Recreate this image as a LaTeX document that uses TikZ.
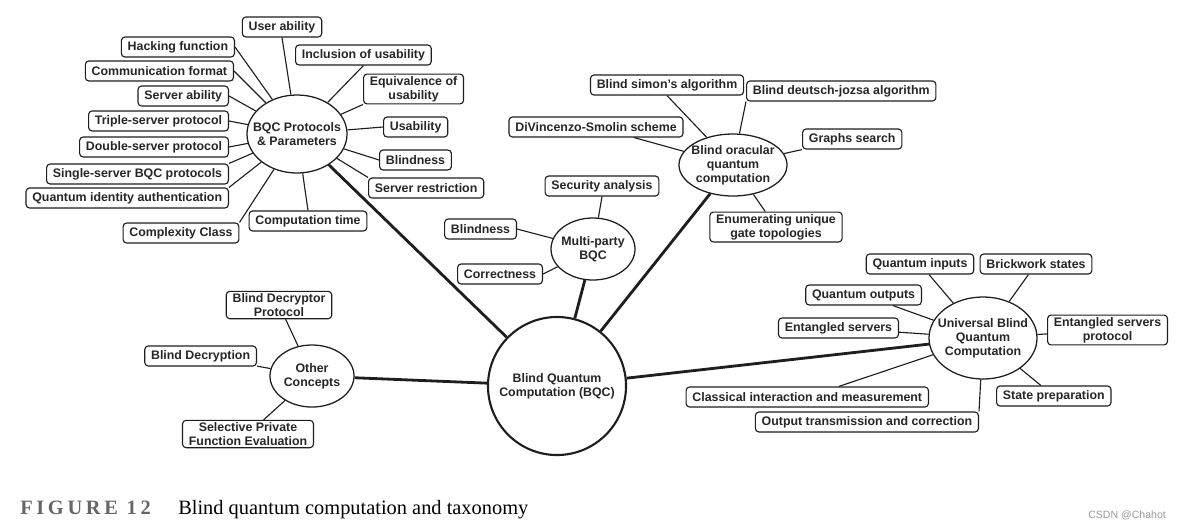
\documentclass[tikz,border=0pt]{standalone}
\usepackage{fontspec}
\setmainfont{Liberation Serif}
\setsansfont{Liberation Sans}
\newfontfamily\figlabfont[LetterSpace=18]{Liberation Serif}
\usetikzlibrary{shapes.geometric}
\definecolor{inkTxt}{HTML}{262626}
\definecolor{inkLine}{HTML}{1E1E1E}
\definecolor{figGry}{HTML}{66666A}
\definecolor{markGry}{HTML}{9A9A9A}

\begin{document}
\begin{tikzpicture}[
  x=0.025cm, y=-0.025cm,
  font=\sffamily\bfseries\fontsize{8.8}{10}\selectfont,
  leaf/.style={rectangle, rounded corners=2.5pt, draw=inkLine, line width=0.8pt, fill=white,
               text=inkTxt, align=center, inner xsep=4.5pt, inner ysep=1.5pt, minimum height=5mm},
  hub/.style={ellipse, draw=inkLine, line width=0.9pt, fill=white, inner sep=0pt},
  hubtxt/.style={text=inkTxt, align=center},
  root/.style={circle, draw=inkLine, line width=1.5pt, fill=white, minimum size=3.45cm,
               text=inkTxt, align=center},
  twig/.style={draw=inkLine, line width=0.8pt},
  limb/.style={draw=inkLine, line width=2pt},
]
\useasboundingbox (0,0) rectangle (1182,528);

% ---- Root ----
\node[root] (root) at (557,386) {Blind Quantum\\Computation (BQC)};

% ---- BQC protocols & parameters ----
\node[hub, minimum width=2.5cm, minimum height=1.95cm,
      label={[hubtxt]center:BQC Protocols\\\& Parameters}] (bqcp) at (297,134) {};
\node[leaf] (user) at (282,27) {User ability};
\node[leaf, anchor=east] (hack) at (235,47) {Hacking function};
\node[leaf, anchor=east] (comm) at (234,71) {Communication format};
\node[leaf, anchor=east] (srvab) at (229,96) {Server ability};
\node[leaf, anchor=east] (triple) at (229,121) {Triple-server protocol};
\node[leaf, anchor=east] (double) at (229,147) {Double-server protocol};
\node[leaf, anchor=east] (single) at (229,174) {Single-server BQC protocols};
\node[leaf, anchor=east] (qia) at (229,198) {Quantum identity authentication};
\node[leaf] (cplx) at (181,233) {Complexity Class};
\node[leaf] (ctime) at (308,221) {Computation time};
\node[leaf, anchor=west] (incl) at (295,55) {Inclusion of usability};
\node[leaf, anchor=west] (equiv) at (363,89) {Equivalence of\\usability};
\node[leaf, anchor=west] (usab) at (383,127) {Usability};
\node[leaf, anchor=west] (pblind) at (379,160) {Blindness};
\node[leaf, anchor=west] (srvres) at (368,188) {Server restriction};

\foreach \a in {user.south, hack.east, comm.east, srvab.east, triple.east, double.east,
                single.north east, qia.north east, cplx.north east, ctime.north,
                incl.south, equiv.south west, usab.west, pblind.west, srvres.north west}
  \draw[twig] (\a) -- (bqcp);

% ---- Multi-party BQC ----
\node[hub, minimum width=2.1cm, minimum height=1.55cm,
      label={[hubtxt]center:Multi-party\\BQC}] (mpbqc) at (593,249) {};
\node[leaf] (sec) at (602,186) {Security analysis};
\node[leaf, anchor=east] (mblind) at (517,229) {Blindness};
\node[leaf, anchor=east] (corr) at (543,274) {Correctness};

\foreach \a in {sec.south, mblind.east, corr.east}
  \draw[twig] (\a) -- (mpbqc);

% ---- Blind oracular quantum computation ----
\node[hub, minimum width=2.7cm, minimum height=1.55cm,
      label={[hubtxt]center:Blind oracular\\quantum\\computation}] (bloq) at (733,165) {};
\node[leaf] (simon) at (667,85) {Blind simon’s algorithm};
\node[leaf, anchor=west] (dj) at (746,91) {Blind deutsch-jozsa algorithm};
\node[leaf] (dv) at (596,127) {DiVincenzo-Smolin scheme};
\node[leaf, anchor=west] (graphs) at (802,139) {Graphs search};
\node[leaf] (enum) at (776,227) {Enumerating unique\\gate topologies};

\foreach \a in {simon.south, dj.south west, dv, graphs.south west, enum}
  \draw[twig] (\a) -- (bloq);

% ---- Universal blind quantum computation ----
\node[hub, minimum width=2.7cm, minimum height=2.05cm,
      label={[hubtxt]center:Universal Blind\\Quantum\\Computation}] (ubqc) at (983,338) {};
\node[leaf] (qin) at (920,264) {Quantum inputs};
\node[leaf] (brick) at (1036,264) {Brickwork states};
\node[leaf, anchor=east] (qout) at (922,295) {Quantum outputs};
\node[leaf, anchor=east] (ents) at (899,328) {Entangled servers};
\node[leaf, anchor=west] (entsp) at (1047,330) {Entangled servers\\protocol};
\node[leaf, anchor=east] (clas) at (929,397) {Classical interaction and measurement};
\node[leaf, anchor=east] (outp) at (979,422) {Output transmission and correction};
\node[leaf, anchor=west] (state) at (996,396) {State preparation};

\foreach \a in {qin, brick, qout, ents, entsp, clas, outp.north east, state}
  \draw[twig] (\a) -- (ubqc);

% ---- Other concepts ----
\node[hub, minimum width=2.1cm, minimum height=1.55cm,
      label={[hubtxt]center:Other\\Concepts}] (other) at (312,376) {};
\node[leaf] (bdp) at (279,305) {Blind Decryptor\\Protocol};
\node[leaf, anchor=east] (bdec) at (257,356) {Blind Decryption};
\node[leaf] (spfe) at (248,434) {Selective Private\\Function Evaluation};

\foreach \a in {bdp, bdec, spfe}
  \draw[twig] (\a) -- (other);

% ---- Main branches ----
\draw[limb] (bqcp) -- (root);
\draw[limb] (mpbqc) -- (root);
\draw[limb] (bloq) -- (root);
\draw[limb] (root) -- (ubqc);
\draw[limb] (other) -- (root);

% ---- Caption ----
\node[anchor=base west, inner sep=0pt, text=figGry,
      font=\figlabfont\bfseries\fontsize{14.5}{17}\selectfont] (figlab) at (20,514) {FIGURE 12};
\node[anchor=base west, inner sep=0pt, text=black,
      font=\rmfamily\fontsize{14.5}{17}\selectfont] (figcap) at (178,514) {Blind quantum computation and taxonomy};
\node[anchor=base west, inner sep=0pt, text=markGry,
      font=\sffamily\fontsize{7.5}{9}\selectfont] (mark) at (1088,518) {CSDN @Chahot};

\end{tikzpicture}
\end{document}
